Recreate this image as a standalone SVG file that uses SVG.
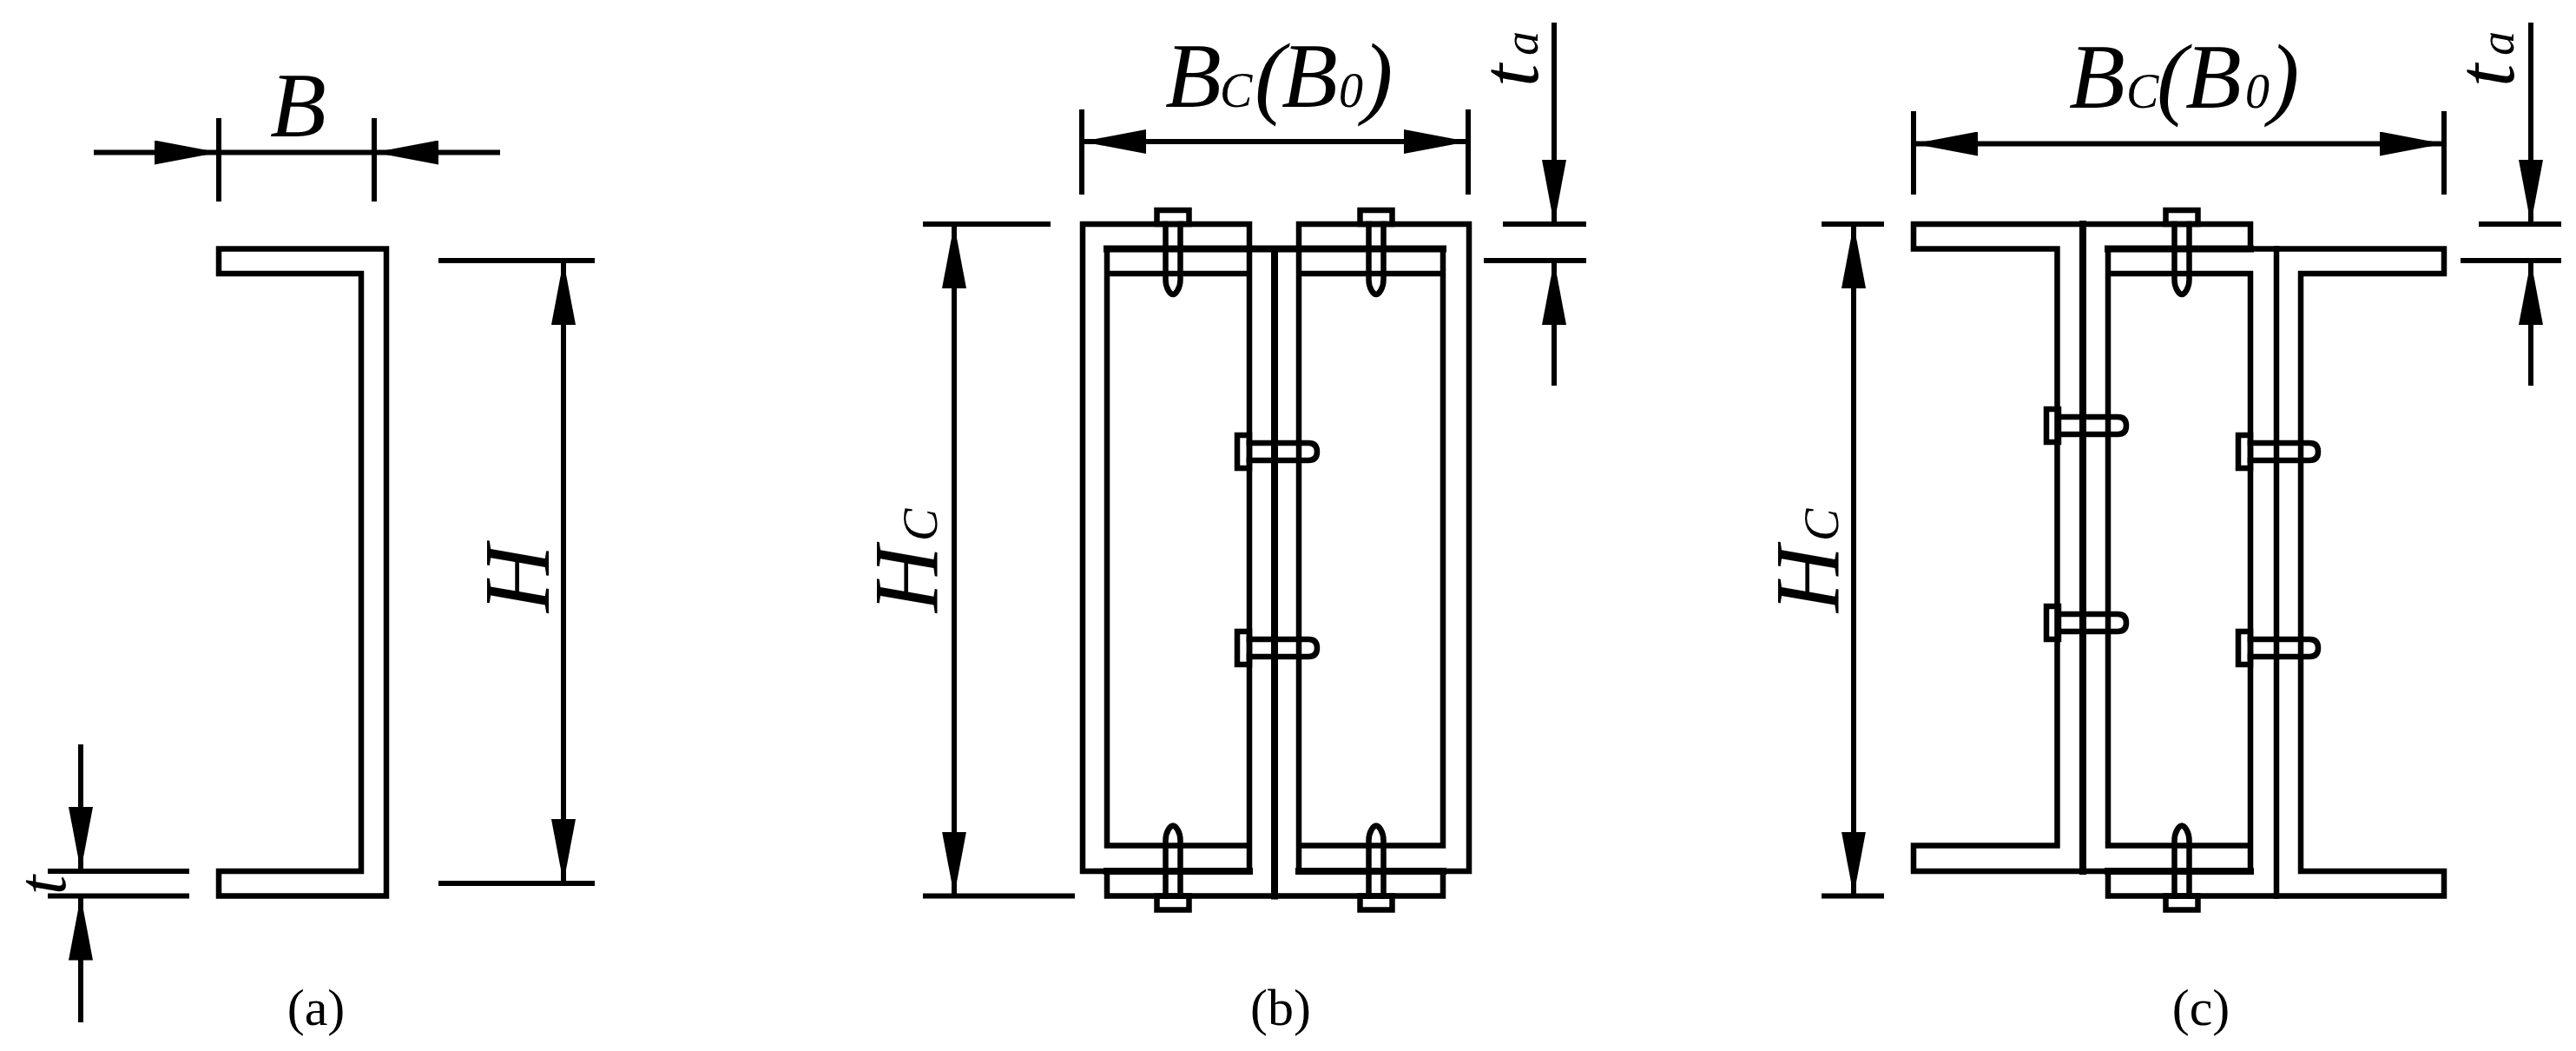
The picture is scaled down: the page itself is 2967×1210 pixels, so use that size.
<svg xmlns="http://www.w3.org/2000/svg" width="2967" height="1210" viewBox="0 0 2967 1210">
<style>
.s{fill:none;stroke:#000;stroke-width:6.5;stroke-linecap:square;stroke-linejoin:miter}
.h{fill:none;stroke:#000;stroke-width:8;stroke-linecap:square}
.d{fill:none;stroke:#000;stroke-width:6}
.a{marker-end:url(#arr)}
.m{font-family:"Liberation Serif",serif;font-style:italic;fill:#000}
.b{font-size:106px}
.u{font-size:56px}
.n{font-family:"Liberation Serif",serif;font-size:60px;fill:#000;text-anchor:middle}
</style>
<defs>
<marker id="arr" markerUnits="userSpaceOnUse" viewBox="0 0 74 28" refX="74" refY="14" markerWidth="74" markerHeight="28" orient="auto"><path d="M0 0L74 14L0 28Z" fill="#000"/></marker>
<g id="bolt-v"><rect class="s" x="-18.5" y="-16" width="37" height="16"/><path class="s" d="M-8.5 0V64C-8.5 74 -3 81 0 81C3 81 8.5 74 8.5 64V0"/></g>
<g id="bolt-h"><rect class="s" x="-14" y="-19" width="14" height="38"/><path class="s" d="M0 -10H68Q78 -10 78 0Q78 10 68 10H0"/></g>
</defs>
<rect width="2967" height="1210" fill="#fff"/>

<g id="connectors">
<!-- a -->
<path class="d" d="M252 136V232M431 136V232M252 175.5H431"/>
<path class="d a" d="M108 175.5H252"/>
<path class="d a" d="M576 175.5H431"/>
<path class="d" d="M505 300H685M505 1017H685"/>
<path class="d a" d="M649 660V300"/>
<path class="d a" d="M649 660V1017"/>
<path class="d" d="M55 1003H218M55 1031.5H218"/>
<path class="d a" d="M93 857V1003"/>
<path class="d a" d="M93 1177V1031.5"/>
<!-- b -->
<path class="d" d="M1246 126V224M1691 126V224"/>
<path class="d a" d="M1468 163H1246"/>
<path class="d a" d="M1468 163H1691"/>
<path class="d" d="M1063 258H1210M1063 1031.5H1238"/>
<path class="d a" d="M1099 650V258"/>
<path class="d a" d="M1099 650V1031.5"/>
<path class="d" d="M1731 258H1827M1709 300H1827"/>
<path class="d a" d="M1790 26V258"/>
<path class="d a" d="M1790 444V300"/>
<!-- c -->
<path class="d" d="M2204 128V224M2815 128V224"/>
<path class="d a" d="M2510 165.5H2204"/>
<path class="d a" d="M2510 165.5H2815"/>
<path class="d" d="M2098 258H2170M2098 1031.5H2170"/>
<path class="d a" d="M2135 650V258"/>
<path class="d a" d="M2135 650V1031.5"/>
<path class="d" d="M2855 258H2950M2834 300H2950"/>
<path class="d a" d="M2915 26V258"/>
<path class="d a" d="M2915 444V300"/>
</g>

<g id="section-a">
<path class="s" d="M252 286.5H445V1031.5H252V1003H416V315H252Z"/>
<text class="m b" x="311" y="157">B</text>
<text class="m" font-size="80" transform="translate(75 1030) rotate(-90)">t</text>
<text class="m" font-size="108" transform="translate(632 705) rotate(-90)">H</text>
<text class="n" x="364" y="1180">(a)</text>
</g>

<g id="section-b">
<path class="s" d="M1439 258H1247V1003H1439ZM1275 286.5V973.5H1439M1439 315H1275M1496 315H1662M1662 286.5V973.5H1496M1496 258H1692V1003H1496ZM1275 1003V1031.5H1662V1003"/>
<path class="h" d="M1275 286.5H1662M1275 1003H1439M1496 1003H1662M1468 286.5V1031.5"/>
<use href="#bolt-v" transform="translate(1351 258)"/>
<use href="#bolt-v" transform="translate(1585 258)"/>
<use href="#bolt-v" transform="translate(1351 1031.5) scale(1 -1)"/>
<use href="#bolt-v" transform="translate(1585 1031.5) scale(1 -1)"/>
<use href="#bolt-h" transform="translate(1439 520)"/>
<use href="#bolt-h" transform="translate(1439 746)"/>
<text class="m b" y="123"><tspan x="1342">B</tspan><tspan class="u" x="1405">C</tspan><tspan x="1445">(</tspan><tspan x="1476">B</tspan><tspan class="u" x="1542">0</tspan><tspan x="1569">)</tspan></text>
<text class="m b" transform="translate(1079 705) rotate(-90)"><tspan>H</tspan><tspan class="u" x="82">C</tspan></text>
<text class="m" transform="translate(1771 100) rotate(-90)"><tspan font-size="95">t</tspan><tspan class="u" x="36">a</tspan></text>
<text class="n" x="1475" y="1180">(b)</text>
</g>

<g id="section-c">
<path class="s" d="M2204 258H2592V286.5M2204 258V286.5H2369.5V973.5H2204V1003H2592V973.5H2428V286.5H2815V315H2650V1003H2815V1031.5H2428V1003M2428 315H2592V1003"/>
<path class="h" d="M2428 286.5H2592M2428 1003H2592M2399 258V1003"/>
<path class="s" d="M2622 286.5V1031.5"/>
<use href="#bolt-v" transform="translate(2513 258)"/>
<use href="#bolt-v" transform="translate(2513 1031.5) scale(1 -1)"/>
<use href="#bolt-h" transform="translate(2371 490)"/>
<use href="#bolt-h" transform="translate(2371 717)"/>
<use href="#bolt-h" transform="translate(2592 520)"/>
<use href="#bolt-h" transform="translate(2592 746)"/>
<text class="m b" y="124"><tspan x="2383">B</tspan><tspan class="u" x="2449">C</tspan><tspan x="2484">(</tspan><tspan x="2517">B</tspan><tspan class="u" x="2586">0</tspan><tspan x="2613">)</tspan></text>
<text class="m b" transform="translate(2117 705) rotate(-90)"><tspan>H</tspan><tspan class="u" x="82">C</tspan></text>
<text class="m" transform="translate(2895 100) rotate(-90)"><tspan font-size="95">t</tspan><tspan class="u" x="36">a</tspan></text>
<text class="n" x="2535" y="1180">(c)</text>
</g>
</svg>
